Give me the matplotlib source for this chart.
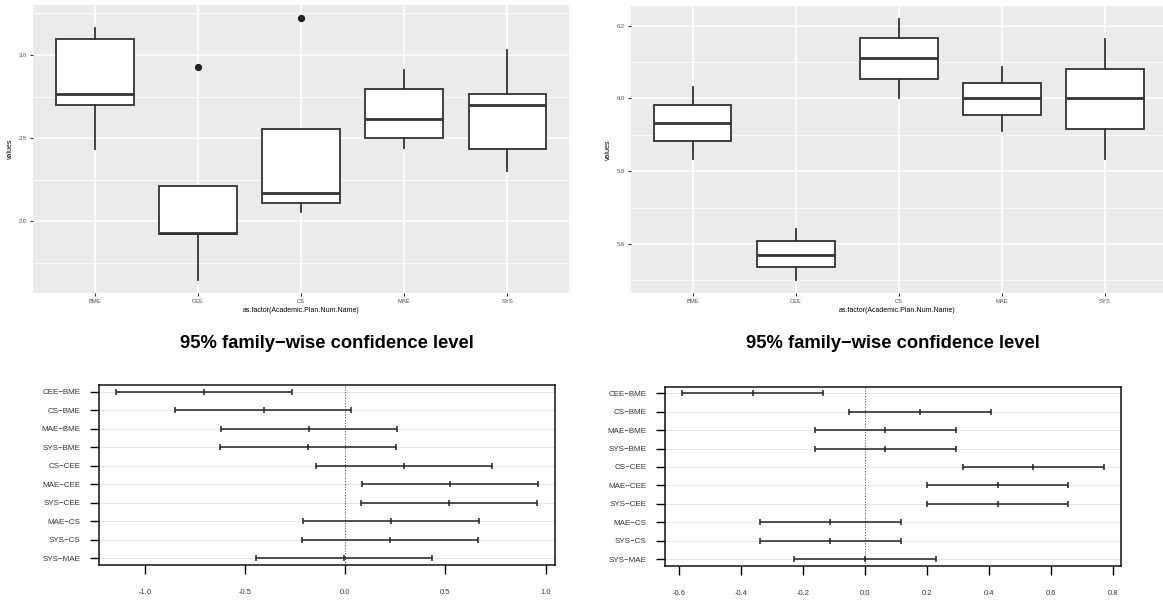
import matplotlib
matplotlib.use("Agg")
import matplotlib.pyplot as plt
import numpy as np

plt.rcParams['font.family'] = ['Liberation Sans', 'DejaVu Sans']

programs = ["BME", "CEE", "CS", "MAE", "SYS"]

# left boxplot: five-number summaries
left_whislo = [2.435, 1.646, 2.057, 2.443, 2.300]
left_q1 = [2.700, 1.925, 2.110, 2.501, 2.432]
left_med = [2.766, 1.929, 2.167, 2.617, 2.700]
left_q3 = [3.099, 2.214, 2.555, 2.794, 2.764]
left_whishi = [3.164, 2.214, 2.555, 2.911, 3.031]
left_fliers = [[], [2.927], [3.222], [], []]
left_major = [2.0, 2.5, 3.0]
left_minor = [1.75, 2.25, 2.75, 3.25]

# right boxplot
right_whislo = [5.833, 5.501, 6.000, 5.911, 5.833]
right_q1 = [5.883, 5.536, 6.054, 5.954, 5.916]
right_med = [5.932, 5.570, 6.110, 6.000, 6.000]
right_q3 = [5.982, 5.607, 6.165, 6.043, 6.082]
right_whishi = [6.031, 5.640, 6.219, 6.086, 6.164]
right_fliers = [[], [], [], [], []]
right_major = [5.6, 5.8, 6.0, 6.2]
right_minor = [5.5, 5.7, 5.9, 6.1]

# Tukey HSD intervals
comparisons = ["CEE\u2212BME", "CS\u2212BME", "MAE\u2212BME", "SYS\u2212BME", "CS\u2212CEE",
               "MAE\u2212CEE", "SYS\u2212CEE", "MAE\u2212CS", "SYS\u2212CS", "SYS\u2212MAE"]
left_diff = [-0.705, -0.408, -0.180, -0.187, 0.293, 0.525, 0.518, 0.230, 0.223, -0.007]
left_lwr = [-1.145, -0.850, -0.620, -0.627, -0.147, 0.083, 0.077, -0.210, -0.217, -0.445]
left_upr = [-0.265, 0.028, 0.258, 0.253, 0.733, 0.963, 0.957, 0.670, 0.663, 0.433]
left_xticks = [-1.0, -0.5, 0.0, 0.5, 1.0]

right_diff = [-0.362, 0.176, 0.066, 0.066, 0.542, 0.428, 0.428, -0.111, -0.111, 0.000]
right_lwr = [-0.590, -0.050, -0.161, -0.161, 0.315, 0.200, 0.200, -0.339, -0.339, -0.228]
right_upr = [-0.135, 0.405, 0.293, 0.293, 0.771, 0.656, 0.656, 0.116, 0.116, 0.228]
right_xticks = [-0.6, -0.4, -0.2, 0.0, 0.2, 0.4, 0.6, 0.8]

title = "95% family\u2212wise confidence level"
xlab = "as.factor(Academic.Plan.Num.Name)"


def gg_box(ax, whislo, q1, med, q3, whishi, fliers, major, minor, xmax):
    stats = []
    for i in range(len(programs)):
        stats.append(dict(whislo=whislo[i], q1=q1[i], med=med[i], q3=q3[i],
                          whishi=whishi[i], fliers=fliers[i], label=programs[i]))
    ax.set_facecolor('#EBEBEB')
    ax.bxp(stats, positions=range(1, 6), widths=0.75, patch_artist=True,
           showcaps=False,
           boxprops=dict(facecolor='white', edgecolor='#333333', lw=1.3),
           medianprops=dict(color='#333333', lw=2.0),
           whiskerprops=dict(color='#333333', lw=1.3),
           flierprops=dict(marker='o', markerfacecolor='#222222',
                           markeredgecolor='#222222', markersize=4.2),
           zorder=3)
    lo = min(whislo + [v for f in fliers for v in f])
    hi = max(whishi + [v for f in fliers for v in f])
    pad = (hi - lo) * 0.05
    ax.set_ylim(lo - pad, hi + pad)
    ax.set_xlim(0.4, xmax)
    ax.set_yticks(major)
    ax.set_yticklabels([f"{v:.1f}" for v in major])
    ax.set_yticks(minor, minor=True)
    ax.set_xticks(range(1, 6))
    ax.set_xticklabels(programs)
    ax.grid(True, which='major', color='white', lw=1.1, zorder=0)
    ax.grid(True, which='minor', axis='y', color='white', lw=0.6, zorder=0)
    ax.set_axisbelow(True)
    for s in ax.spines.values():
        s.set_visible(False)
    ax.tick_params(which='major', length=2.2, width=0.8, color='#333333',
                   labelsize=4.2, labelcolor='#4D4D4D', pad=2)
    ax.tick_params(which='minor', length=0)
    ax.set_xlabel(xlab, fontsize=5, labelpad=2)
    ax.set_ylabel("values", fontsize=5, labelpad=4)


def tukey(ax, diff, lwr, upr, xticks):
    n = len(comparisons)
    y = np.arange(n, 0, -1)
    diff = np.array(diff)
    lo = np.array(lwr)
    hi = np.array(upr)
    ax.errorbar(diff, y, xerr=[diff - lo, hi - diff], fmt='|', color='#222222',
                ms=4, mew=1.1, elinewidth=1.1, capsize=2, capthick=1.1, zorder=3)
    ax.axvline(0, ls=(0, (1, 1.5)), color='#555555', lw=0.8, zorder=2)
    span = hi.max() - lo.min()
    ax.set_xlim(lo.min() - 0.04 * span, hi.max() + 0.04 * span)
    ax.set_ylim(1 - 0.04 * (n - 1), n + 0.04 * (n - 1))
    ax.set_yticks(y)
    ax.set_yticklabels(comparisons)
    ax.yaxis.grid(True, color='#E6E6E6', lw=0.8, zorder=0)
    ax.set_xticks(xticks)
    ax.set_xticklabels([f"{t:.1f}" for t in xticks])
    for s in ax.spines.values():
        s.set_linewidth(1.1)
        s.set_color('#111111')
    ax.tick_params(axis='y', length=6.5, width=1.0, labelsize=5.8,
                   labelcolor='#333333', pad=7)
    ax.tick_params(axis='x', length=6.5, width=1.0, labelsize=5.4,
                   labelcolor='#333333', pad=11)


fig = plt.figure(figsize=(11.63, 6.01), dpi=100)

ax1 = fig.add_axes([33 / 1163, 1 - 293 / 601, (569 - 33) / 1163, 288 / 601])
gg_box(ax1, left_whislo, left_q1, left_med, left_q3, left_whishi, left_fliers,
       left_major, left_minor, 5.6)

ax2 = fig.add_axes([631 / 1163, 1 - 293 / 601, (1163 - 631) / 1163, 287.3 / 601])
gg_box(ax2, right_whislo, right_q1, right_med, right_q3, right_whishi, right_fliers,
       right_major, right_minor, 5 + (1163 - 1105) / 103)

ax3 = fig.add_axes([99 / 1163, 1 - 565 / 601, (555 - 99) / 1163, 180 / 601])
tukey(ax3, left_diff, left_lwr, left_upr, left_xticks)

ax4 = fig.add_axes([665 / 1163, 1 - 565.7 / 601, (1121 - 665) / 1163, 179 / 601])
tukey(ax4, right_diff, right_lwr, right_upr, right_xticks)

fig.text(327 / 1163, 1 - 343 / 601, title, ha='center', va='center',
         fontsize=13.2, fontweight='bold')
fig.text(893 / 1163, 1 - 343 / 601, title, ha='center', va='center',
         fontsize=13.2, fontweight='bold')

fig.savefig("out.png", dpi=100, facecolor='white')
